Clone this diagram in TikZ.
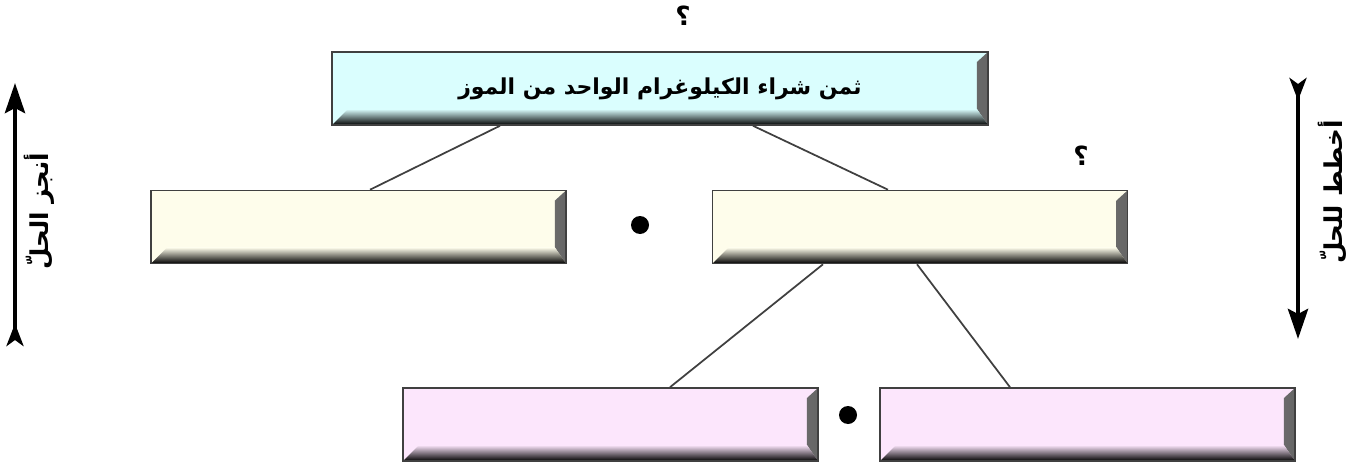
\documentclass[tikz,border=0pt]{standalone}
\usepackage{fontspec}
\usepackage{tikz}
\usetikzlibrary{arrows.meta,calc}
\newfontfamily\arabicfont[Script=Arabic]{DejaVu Sans}
\TeXXeTstate=1
\definecolor{skyfill}{HTML}{DAFEFE}
\definecolor{creamfill}{HTML}{FEFDEB}
\definecolor{pinkfill}{HTML}{FCE6FC}
\tikzset{
  bevelbox/.style={draw=black!75, line width=0.9pt, fill=#1, inner sep=0pt,
    minimum width=8.3cm, minimum height=1.46cm,
    path picture={
      \shade[left color=#1, right color=black!60]
        (path picture bounding box.north east) -- ++(-0.22cm,-0.2cm)
        -- ([xshift=-0.22cm,yshift=0.32cm]path picture bounding box.south east)
        -- (path picture bounding box.south east) -- cycle;
      \shade[top color=#1, bottom color=black]
        (path picture bounding box.south west) -- ++(0.32cm,0.32cm)
        -- ([xshift=-0.22cm,yshift=0.32cm]path picture bounding box.south east)
        -- (path picture bounding box.south east) -- cycle;
    }},
  link/.style={draw=black!75, line width=1pt},
  flowarrow/.style={line width=2.6pt, {Stealth[reversed,length=4.5mm,width=3.4mm,inset=1.2mm]}-{Stealth[length=6mm,width=4mm,inset=1mm]}},
  arlabel/.style={font=\arabicfont\bfseries\fontsize{12.5}{15}\selectfont, inner sep=0pt},
  qmark/.style={font=\arabicfont\bfseries\fontsize{15}{17}\selectfont, inner sep=0pt},
  sidelabel/.style={font=\arabicfont\bfseries\fontsize{14}{16}\selectfont, inner sep=0pt, rotate=90},
}
\begin{document}
\begin{tikzpicture}[x=0.02cm, y=-0.02cm]
\useasboundingbox (0,0) rectangle (1358,466);
% question marks
\node[qmark] (qtop) at (683,16) {؟};
\node[qmark] (qright) at (1081,156) {؟};
% boxes
\node[bevelbox=skyfill, minimum width=13.12cm, arlabel] (cost) at (660,88.5)
  {\beginR ثمن شراء الكيلوغرام الواحد من الموز\endR};
\node[bevelbox=creamfill] (mleft) at (358.5,227) {};
\node[bevelbox=creamfill] (mright) at (920,227) {};
\node[bevelbox=pinkfill] (bleft) at (610.5,424.5) {};
\node[bevelbox=pinkfill] (bright) at (1087.5,424.5) {};
\foreach \p in {(640,225),(848,415)}
  {\fill \p circle (9);}
% links
\draw[link] ($(cost.south)+(-160,0)$) -- ($(mleft.north)+(11.5,0)$);
\draw[link] ($(cost.south)+(93,0)$) -- ($(mright.north)+(-32,0)$);
\draw[link] ($(mright.south)+(-97,0)$) -- ($(bleft.north)+(59.5,0)$);
\draw[link] ($(mright.south)+(-3,0)$) -- ($(bright.north)+(-77.5,0)$);
% side arrows
\coordinate (doL) at (15,346); \coordinate (doH) at (15,83);
\coordinate (planT) at (1298,78); \coordinate (planH) at (1298,339);
\draw[flowarrow] (doL) -- (doH);
\draw[flowarrow] (planT) -- (planH);
\node[sidelabel] (dolab) at (39,211) {\beginR أنجز الحلّ\endR};
\node[sidelabel] (planlab) at (1333,192) {\beginR أخطط للحلّ\endR};
\end{tikzpicture}
\end{document}
